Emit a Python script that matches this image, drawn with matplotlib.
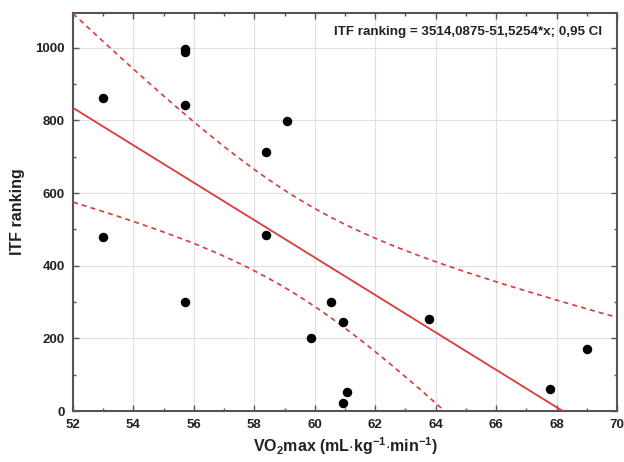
import numpy as np
import matplotlib
matplotlib.use("Agg")
import matplotlib.pyplot as plt
from matplotlib.ticker import MultipleLocator

vo2max = [53.0, 53.0, 55.72, 55.72, 55.72, 55.72, 58.39, 58.39, 59.07, 59.87,
          60.54, 60.94, 61.08, 60.94, 63.77, 67.77, 69.0]
itf_rank = [862, 480, 997, 988, 842, 299, 712, 485, 798, 200,
            299, 244, 52, 21, 254, 60, 172]

intercept = 3514.0875
slope = -51.5254
t_crit = 2.131  # t(0.975, df=15)
equation_text = "ITF ranking = 3514,0875-51,5254*x; 0,95 CI"

x = np.array(vo2max)
y = np.array(itf_rank)
n = len(x)
resid = y - (intercept + slope * x)
s = np.sqrt(np.sum(resid ** 2) / (n - 2))
xbar = x.mean()
sxx = np.sum((x - xbar) ** 2)
xs = np.linspace(52, 70, 300)
yhat = intercept + slope * xs
half = t_crit * s * np.sqrt(1 / n + (xs - xbar) ** 2 / sxx)

plt.rcParams['font.family'] = ['Liberation Sans', 'DejaVu Sans']
plt.rcParams['mathtext.fontset'] = 'custom'
plt.rcParams['mathtext.rm'] = 'Liberation Sans:bold'
plt.rcParams['mathtext.bf'] = 'Liberation Sans:bold'
plt.rcParams['mathtext.it'] = 'Liberation Sans:bold'

fig = plt.figure(figsize=(6.24, 4.62), dpi=100)
ax = fig.add_axes([73 / 624, 1 - 411 / 462, (617 - 73) / 624, (411 - 13) / 462])

red = '#d93a3a'
ax.plot(xs, yhat, color=red, lw=1.3, zorder=3)
ax.plot(xs, yhat + half, color=red, lw=1.2, ls=(0, (3, 2.5)), zorder=3)
ax.plot(xs, yhat - half, color=red, lw=1.2, ls=(0, (3, 2.5)), zorder=3)
ax.scatter(x, y, s=34, color='black', zorder=4, clip_on=False)

ax.set_xlim(52, 70)
ax.set_ylim(0, 1096)
ax.xaxis.set_major_locator(MultipleLocator(2))
ax.xaxis.set_minor_locator(MultipleLocator(1))
ax.yaxis.set_major_locator(MultipleLocator(200))
ax.yaxis.set_minor_locator(MultipleLocator(100))
ax.grid(True, which='major', color='#e0e0e0', lw=0.8, zorder=0)
ax.set_axisbelow(True)
ax.tick_params(which='both', direction='in', top=True, right=True, colors='#555555',
               labelcolor='#222222')
ax.tick_params(which='major', length=4, width=1, labelsize=9.5)
ax.tick_params(axis='x', which='major', pad=6)
ax.tick_params(axis='y', which='major', pad=6)
ax.tick_params(which='minor', length=2.5, width=1)
for lab in ax.get_xticklabels() + ax.get_yticklabels():
    lab.set_fontweight('bold')
for sp in ax.spines.values():
    sp.set_color('#555555')
    sp.set_linewidth(1.5)

ax.set_xlabel(r'VO$_\mathbf{2}$max (mL$\cdot$kg$^\mathbf{-1}$$\cdot$min$^\mathbf{-1}$)',
              fontsize=11.5, fontweight='bold', color='#222222', labelpad=3)
ax.set_ylabel('ITF ranking', fontsize=11.5, fontweight='bold', color='#222222', labelpad=7)
ax.text(0.972, 0.952, equation_text, transform=ax.transAxes, ha='right', va='center',
        fontsize=9.6, fontweight='bold', color='#222222')

fig.savefig('out.png', dpi=100)
